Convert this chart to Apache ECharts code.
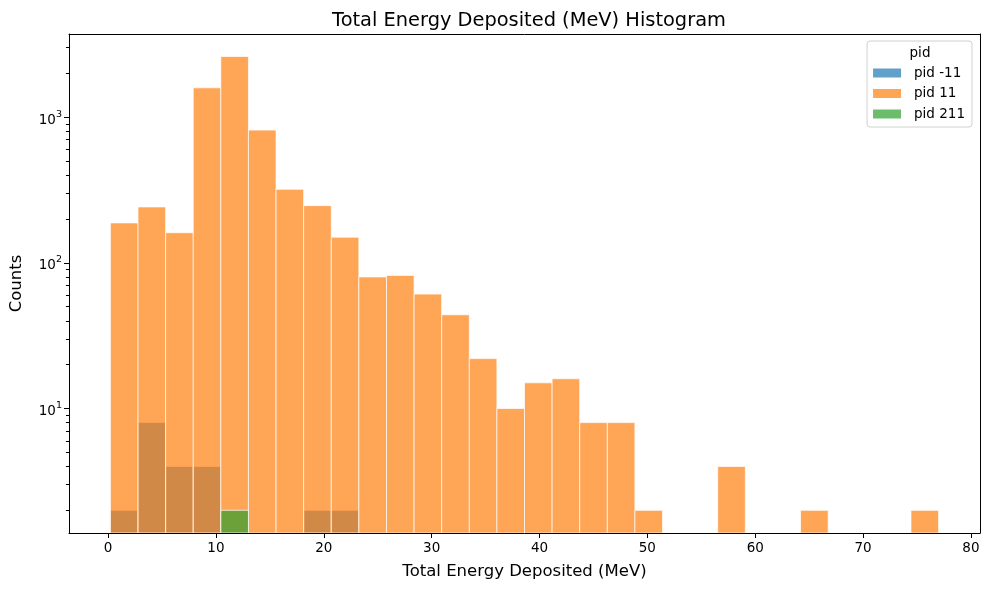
<!DOCTYPE html>
<html><head><meta charset="utf-8">
<script src="https://cdn.jsdelivr.net/npm/echarts@6/dist/echarts.min.js"></script>
<style>html,body{margin:0;padding:0;background:#fff}#c{width:988px;height:590px}</style>
</head><body><div id="c"></div>
<script>
// Histogram definition (shared bins)
const binMin = 0.22;
const binMax = 77.0;
const nBins = 30;

// Counts per bin for each pid
const countsPidM11 = [2, 8, 4, 4, 0, 0, 0, 2, 2, 0, 0, 0, 0, 0, 0, 0, 0, 0, 0, 0, 0, 0, 0, 0, 0, 0, 0, 0, 0, 0];
const countsPid11  = [188, 242, 161, 1590, 2610, 815, 320, 247, 150, 80, 82, 61, 44, 22, 10, 15, 16, 8, 8, 2, 0, 0, 4, 0, 0, 2, 0, 0, 0, 2];
const countsPid211 = [0, 0, 0, 0, 2, 0, 0, 0, 0, 0, 0, 0, 0, 0, 0, 0, 0, 0, 0, 0, 0, 0, 0, 0, 0, 0, 0, 0, 0, 0];

const seriesNames = ['pid -11', 'pid 11', 'pid 211'];
const seriesColors = ['#1f77b4', '#ff7f0e', '#2ca02c'];

// Axis ticks
const xTicks = [0, 10, 20, 30, 40, 50, 60, 70, 80];
const yMajorTicks = [10, 100, 1000];
const yMinorTicks = [2, 3, 4, 5, 6, 7, 8, 9, 20, 30, 40, 50, 60, 70, 80, 90, 200, 300, 400, 500, 600, 700, 800, 900, 2000, 3000];

const xMin = -3.62, xMax = 80.84;
const yMin = 1.397, yMax = 3724;

const FONT = 'DejaVu Sans';
const binW = (binMax - binMin) / nBins;

function toData(counts) {
  const out = [];
  counts.forEach((c, i) => {
    if (c > 0) out.push([binMin + i * binW, binMin + (i + 1) * binW, c]);
  });
  return out;
}

function makeRender(color) {
  return function (params, api) {
    const x0 = api.value(0), x1 = api.value(1), c = api.value(2);
    const p0 = api.coord([x0, c]);
    const p1 = api.coord([x1, yMin]);
    return {
      type: 'rect',
      shape: { x: p0[0], y: p0[1], width: p1[0] - p0[0], height: p1[1] - p0[1] },
      style: { fill: color, stroke: '#ffffff', lineWidth: 1, opacity: 0.7 }
    };
  };
}

const allCounts = [countsPidM11, countsPid11, countsPid211];
const spine = { show: true, onZero: false, lineStyle: { color: '#000', width: 1 } };

const chart = echarts.init(document.getElementById('c'), null, { renderer: 'canvas' });
const option = {
  animation: false,
  backgroundColor: '#fff',
  title: {
    text: 'Total Energy Deposited (MeV) Histogram',
    left: 524, textAlign: 'center', top: 6,
    textStyle: { fontFamily: FONT, fontSize: 19.4, fontWeight: 'normal', color: '#000' }
  },
  grid: { left: 69, right: 8, top: 34, bottom: 57, show: false },
  legend: {
    orient: 'vertical', right: 16, top: 41,
    data: seriesNames.map((n, i) => ({ name: n, itemStyle: { color: seriesColors[i], opacity: 0.7 } })),
    icon: 'rect', itemWidth: 28, itemHeight: 9, itemGap: 6.5,
    textStyle: { fontFamily: FONT, fontSize: 13.5, color: '#000', lineHeight: 14, padding: [0, 0, 0, 8] },
    backgroundColor: 'rgba(255,255,255,0.8)', borderColor: '#d0d0d0', borderWidth: 1, borderRadius: 3,
    padding: [25, 7, 6, 6],
    selectedMode: false
  },
  graphic: [{
    type: 'text', x: 920, y: 53, z: 100,
    style: { text: 'pid', fontFamily: FONT, fontSize: 13.5, fill: '#000', align: 'center', verticalAlign: 'middle' }
  }],
  xAxis: [{
    type: 'value', min: xMin, max: xMax, position: 'bottom',
    name: 'Total Energy Deposited (MeV)', nameLocation: 'middle', nameGap: 30,
    nameTextStyle: { fontFamily: FONT, fontSize: 16.5, color: '#000' },
    axisLine: spine,
    axisTick: { show: true, length: 5, customValues: xTicks, lineStyle: { color: '#000' } },
    axisLabel: { customValues: xTicks, fontFamily: FONT, fontSize: 13.5, color: '#000', margin: 8 },
    splitLine: { show: false }, z: 10
  }, {
    type: 'value', min: xMin, max: xMax, position: 'top',
    axisLine: spine, axisTick: { show: false }, axisLabel: { show: false }, splitLine: { show: false }, z: 10
  }],
  yAxis: [{
    type: 'log', logBase: 10, min: yMin, max: yMax, position: 'left',
    name: 'Counts', nameLocation: 'middle', nameGap: 44, nameRotate: 90,
    nameTextStyle: { fontFamily: FONT, fontSize: 16.5, color: '#000' },
    axisLine: spine,
    axisTick: { show: true, length: 5, customValues: yMajorTicks, lineStyle: { color: '#000' } },
    axisLabel: {
      customValues: yMajorTicks, color: '#000', margin: 7,
      formatter: v => '{b|10}{s|' + Math.round(Math.log10(v)) + '}',
      rich: {
        b: { fontFamily: FONT, fontSize: 13.5, color: '#000', padding: [6, 0, 0, 0] },
        s: { fontFamily: FONT, fontSize: 9.5, color: '#000', padding: [0, 0, 6, 0] }
      }
    },
    splitLine: { show: false }, z: 10
  }, {
    type: 'log', logBase: 10, min: yMin, max: yMax, position: 'left',
    axisLine: { show: false, onZero: false },
    axisTick: { show: true, length: 3, customValues: yMinorTicks, lineStyle: { color: '#000' } },
    axisLabel: { show: false, customValues: yMinorTicks },
    splitLine: { show: false }, z: 10
  }, {
    type: 'log', logBase: 10, min: yMin, max: yMax, position: 'right',
    axisLine: spine, axisTick: { show: false }, axisLabel: { show: false }, splitLine: { show: false }, z: 10
  }],
  series: seriesNames.map((n, i) => ({
    type: 'custom', name: n, clip: true,
    xAxisIndex: 0, yAxisIndex: 0,
    itemStyle: { color: seriesColors[i], opacity: 0.7 },
    encode: { x: [0, 1], y: 2 },
    renderItem: makeRender(seriesColors[i]),
    data: toData(allCounts[i]),
    z: 2 + i
  }))
};
chart.setOption(option);
</script>
</body></html>
